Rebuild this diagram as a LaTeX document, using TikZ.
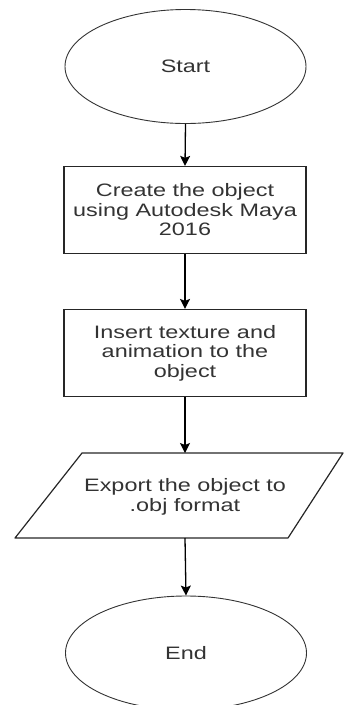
\documentclass[tikz,border=0pt]{standalone}
\usepackage{fontspec}
\setmainfont{Liberation Sans}[FakeStretch=1.3]
\usepackage{tikz}
\usetikzlibrary{arrows.meta,shapes.geometric}

\tikzset{
	term/.style={draw=black!80, line width=0.9pt, ellipse, minimum width=241pt, minimum height=114pt, inner sep=0pt},
	proc/.style={draw=black!85, line width=1.2pt, rectangle, minimum width=242pt, minimum height=87pt, inner sep=0pt, align=center},
	io/.style={draw=black!85, line width=1.2pt, line join=round},
	flow/.style={line width=1.3pt, -{Stealth[length=10pt, width=10pt, inset=2pt]}}
}

\begin{document}
\begin{tikzpicture}[x=1pt, y=-1pt, font=\fontsize{18}{19.5}\selectfont, text=black!80]
	
	\useasboundingbox (0,0) rectangle (344,705);
	
	\coordinate (ioa) at (82,453);
	\coordinate (iob) at (343,453);
	\coordinate (ioc) at (288,538);
	\coordinate (iod) at (15,538);
	\coordinate (exportin) at (185,453);
	\coordinate (exportout) at (185,538);
	
	\node[term] (start) at (185.5,66.5) {Start};
	\node[proc] (create) at (185,210) {Create the object\\using Autodesk Maya\\2016};
	\node[proc] (texture) at (185,353) {Insert texture and\\animation to the\\object};
	\draw[io] (ioa) -- (iob) -- (ioc) -- (iod) -- cycle;
	\node[align=center] (export) at (185,497) {Export the object to\\.obj format};
	\node[term] (end) at (186,653) {End};
	
	\draw[flow] (start.south) -- (create.north);
	\draw[flow] (create.south) -- (texture.north);
	\draw[flow] (texture.south) -- (exportin);
	\draw[flow] (exportout) -- (end.north);
	
\end{tikzpicture}
\end{document}
